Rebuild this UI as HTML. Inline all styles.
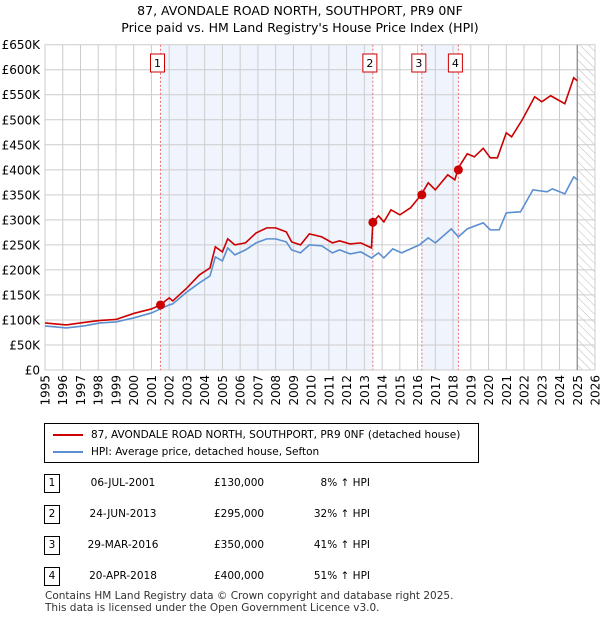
<!DOCTYPE html>
<html><head><meta charset="utf-8"><style>
body{margin:0;background:#fff;font-family:"DejaVu Sans","Liberation Sans",sans-serif;}
#wrap{position:relative;width:600px;height:620px;overflow:hidden;}
.t{position:absolute;font-size:12px;color:#000;}
</style></head><body>
<div id="wrap">
<div class="t" style="left:0;width:600px;text-align:center;top:2px;font-size:12.5px;line-height:17px">87, AVONDALE ROAD NORTH, SOUTHPORT, PR9 0NF<br>Price paid vs. HM Land Registry's House Price Index (HPI)</div>
<svg id="chart" width="600" height="410" style="position:absolute;left:0;top:0;font-family:'DejaVu Sans',sans-serif"></svg>
<div style="position:absolute;left:44px;top:423px;width:433px;height:38px;border:1px solid #000;font-size:10.5px">
 <div style="position:absolute;left:8px;top:5px;white-space:nowrap"><span style="display:inline-block;width:30px;border-top:2px solid #c00;vertical-align:middle;margin-right:8px"></span>87, AVONDALE ROAD NORTH, SOUTHPORT, PR9 0NF (detached house)</div>
 <div style="position:absolute;left:8px;top:22px;white-space:nowrap"><span style="display:inline-block;width:30px;border-top:2px solid #5b8fd0;vertical-align:middle;margin-right:8px"></span>HPI: Average price, detached house, Sefton</div>
</div>
<div id="table"></div>
<div class="t" style="left:45px;top:590px;font-size:10.5px;line-height:12px;color:#333;white-space:nowrap">Contains HM Land Registry data © Crown copyright and database right 2025.<br>This data is licensed under the Open Government Licence v3.0.</div>
</div>
<script>
const hpiYears=[1995,1996.2,1997.2,1998.1,1999,2000,2001,2001.5,2002,2002.2,2003,2003.7,2004.3,2004.6,2005,2005.3,2005.7,2006.3,2006.9,2007.5,2008,2008.6,2008.9,2009.4,2009.9,2010.6,2011.2,2011.6,2012.2,2012.8,2013.4,2013.8,2014.1,2014.6,2015.1,2016.1,2016.6,2017,2017.9,2018.3,2018.8,2019.7,2020.1,2020.6,2021,2021.8,2022.5,2023.3,2023.6,2024.3,2024.8,2025];
const hpiValues=[88,84,88,94,96,104,114,122,130,132,156,174,188,226,218,244,230,240,254,262,262,256,240,234,250,248,234,240,232,236,224,234,224,242,234,250,264,254,282,266,282,294,280,280,314,316,360,356,362,352,386,380];
const redYears=[1995,1996.2,1997.2,1998.1,1999,2000,2001,2001.5,2002,2002.2,2003,2003.7,2004.3,2004.6,2005,2005.3,2005.7,2006.3,2006.9,2007.5,2008,2008.6,2008.9,2009.4,2009.9,2010.6,2011.2,2011.6,2012.2,2012.8,2013.4,2013.48,2013.8,2014.1,2014.5,2015,2015.6,2016.2,2016.6,2017,2017.7,2018.1,2018.3,2018.8,2019.2,2019.7,2020.1,2020.5,2021,2021.3,2021.9,2022.6,2023,2023.5,2024.3,2024.8,2025];
const redValues=[94,90,95,99,101,113,122,130,144,138,164,190,204,246,236,262,250,254,274,284,284,276,256,250,272,266,254,258,252,254,244,295,308,296,320,310,324,350,374,360,390,380,404,432,426,443,424,424,474,466,500,546,536,548,532,584,578];
const saleYears=[2001.51,2013.48,2016.24,2018.3];
const saleValues=[130,295,350,400];
const saleLabels=["1","2","3","4"];
const saleDates=["06-JUL-2001","24-JUN-2013","29-MAR-2016","20-APR-2018"];
const salePrices=["£130,000","£295,000","£350,000","£400,000"];
const saleHpi=["8% ↑ HPI","32% ↑ HPI","41% ↑ HPI","51% ↑ HPI"];
const yTicks=[0,50,100,150,200,250,300,350,400,450,500,550,600,650];
const xTicks=[1995,1996,1997,1998,1999,2000,2001,2002,2003,2004,2005,2006,2007,2008,2009,2010,2011,2012,2013,2014,2015,2016,2017,2018,2019,2020,2021,2022,2023,2024,2025,2026];
const X0=45,X1=595,Y0=370,Y1=44.7;
const xs=y=>X0+(y-1995)/(2026-1995)*(X1-X0);
const ys=v=>Y0-v/650*(Y0-Y1);
const svg=document.getElementById('chart');
const NS='http://www.w3.org/2000/svg';
function mk(tag,at){const e=document.createElementNS(NS,tag);for(const k in at)e.setAttribute(k,at[k]);svg.appendChild(e);return e;}
let d=document.createElementNS(NS,'defs');d.innerHTML='<pattern id="hatch" width="6" height="6" patternUnits="userSpaceOnUse" patternTransform="rotate(-45)"><line x1="0" y1="0" x2="0" y2="6" stroke="#bbb" stroke-width="1"/></pattern>';svg.appendChild(d);
let s=mk('rect',{x:xs(saleYears[0]),y:Y1,width:xs(saleYears[1])-xs(saleYears[0]),height:Y0-Y1,fill:'#f0f4fd'});


s=mk('rect',{x:xs(saleYears[2]),y:Y1,width:xs(saleYears[3])-xs(saleYears[2]),height:Y0-Y1,fill:'#f0f4fd'});


s=mk('rect',{x:xs(2025),y:Y1,width:X1-xs(2025),height:Y0-Y1,fill:'url(#hatch)'});


yTicks.forEach(v=>{
 let l=mk('line',{x1:X0,x2:X1,y1:ys(v),y2:ys(v),stroke:'#ccc','stroke-width':1});
 
 
 let t=mk('text',{x:40,y:ys(v)+4.5,'text-anchor':'end','font-size':'12'});
 t.textContent=v===0?'£0':'£'+v+'K';
 
 
});
xTicks.forEach(y=>{
 let l=mk('line',{x1:xs(y),x2:xs(y),y1:Y1,y2:Y0,stroke:'#ccc','stroke-width':1});
 
 
 let t=mk('text',{x:xs(y)+4.5,y:375,'text-anchor':'end','font-size':'12',transform:`rotate(-90 ${xs(y)+4.5} 375)`});
 t.textContent=y;
 
 
});
let v=mk('line',{x1:xs(2025),x2:xs(2025),y1:Y1,y2:Y0,stroke:'#888','stroke-width':1.2});


saleYears.forEach((y,i)=>{
 let l=mk('line',{x1:xs(y),x2:xs(y),y1:Y1,y2:Y0,stroke:'#f07070','stroke-width':1,'stroke-dasharray':'2,2'});
 
 
 let b=mk('rect',{x:xs(y)-10,y:54,width:14,height:18,fill:'#fff',stroke:'#c00'});
 
 
 let t=mk('text',{x:xs(y)-3,y:67,'text-anchor':'middle','font-size':'11'});
 t.textContent=saleLabels[i];
 
 
});
let p=mk('polyline',{points:hpiYears.map((y,i)=>xs(y)+','+ys(hpiValues[i])).join(' '),fill:'none',stroke:'#5b8fd0','stroke-width':1.6});


p=mk('polyline',{points:redYears.map((y,i)=>xs(y)+','+ys(redValues[i])).join(' '),fill:'none',stroke:'#c00','stroke-width':1.6});


saleYears.forEach((y,i)=>{
 let c=mk('circle',{cx:xs(y),cy:ys(saleValues[i]),r:4.5,fill:'#c00'});
 
 
});
const tb=document.getElementById('table');
saleDates.forEach((dt,i)=>{
 const top=474+i*31;
 const r=document.createElement('div');
 
 
 r.style.cssText=`position:absolute;left:0;top:${top}px;width:600px;height:20px;font-size:10.5px`;
 r.innerHTML=`<span style="position:absolute;left:44px;top:0;width:14px;height:17px;border:1px solid #000;text-align:center;line-height:17px">${saleLabels[i]}</span><span style="position:absolute;left:60px;width:126px;text-align:center;top:3px">${dt}</span><span style="position:absolute;left:214px;top:3px">${salePrices[i]}</span><span style="position:absolute;left:270px;width:100px;text-align:right;top:3px">${saleHpi[i]}</span>`;
 tb.appendChild(r);
});
</script>
</body></html>
